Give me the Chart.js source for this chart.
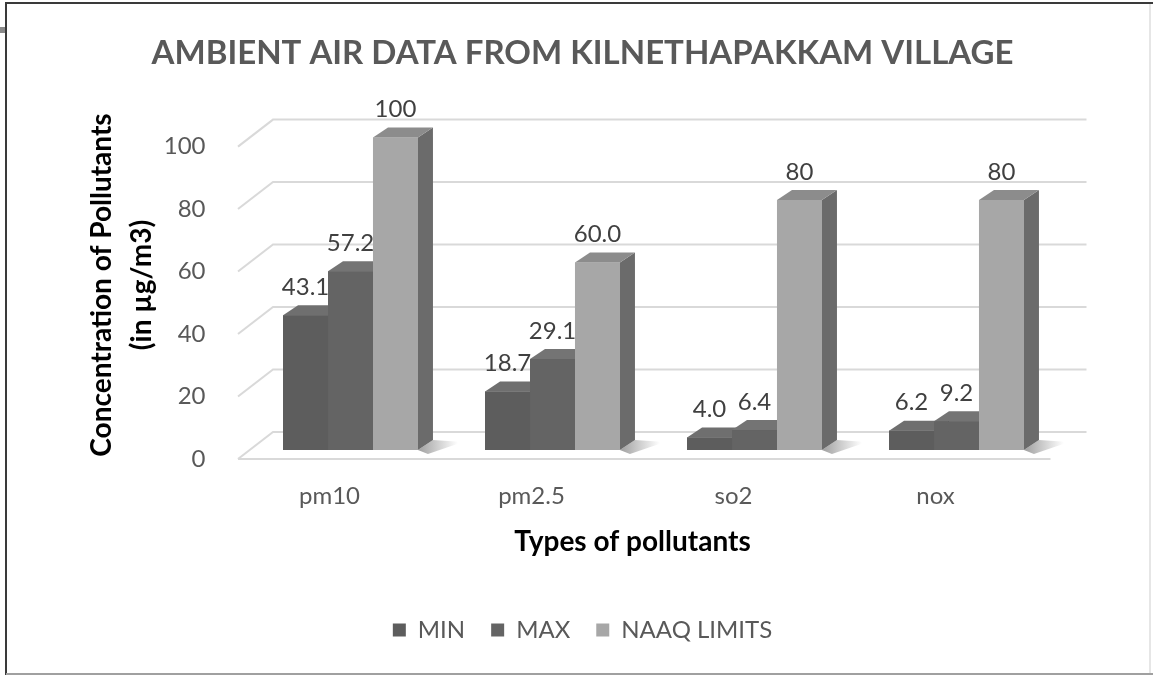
<!DOCTYPE html>
<html>
<head>
<meta charset="utf-8">
<script src="https://cdn.jsdelivr.net/npm/chart.js@4.4.1/dist/chart.umd.min.js"></script>
<style>
  html, body { margin: 0; padding: 0; background: #fff; }
  #wrap { position: relative; width: 1153px; height: 675px; }
</style>
</head>
<body>
<div id="wrap"><canvas id="airChart" width="1153" height="675"></canvas></div>
<script>
const categories = ['pm10', 'pm2.5', 'so2', 'nox'];
const minValues = [43.1, 18.7, 4.0, 6.2];
const maxValues = [57.2, 29.1, 6.4, 9.2];
const naaqValues = [100, 60, 80, 80];
const naaqText = ['100', '60.0', '80', '80'];
const seriesNames = ['MIN', 'MAX', 'NAAQ LIMITS'];
const yTicks = [0, 20, 40, 60, 80, 100];

const chartTitle = 'AMBIENT AIR DATA FROM KILNETHAPAKKAM VILLAGE';
const yTitle = ['Concentration of Pollutants', '(in µg/m3)'];
const xTitle = 'Types of pollutants';

// colours of the three faces of each bar (front, side, top)
const faces = [
  { front: '#5d5d5d', side: '#454545', top: '#6f6f6f' },
  { front: '#646464', side: '#4a4a4a', top: '#747474' },
  { front: '#a7a7a7', side: '#6b6b6b', top: '#8c8c8c' }
];

const FONT = 'Lato';

const fake3d = {
  id: 'fake3d',
  beforeDraw(chart) {
    const ctx = chart.ctx;
    ctx.save();
    ctx.fillStyle = '#fff';
    ctx.fillRect(0, 0, chart.width, chart.height);
    // frame
    ctx.strokeStyle = '#3a3a3a';
    ctx.lineWidth = 2;
    ctx.beginPath();
    ctx.moveTo(6, 675); ctx.lineTo(6, 3); ctx.lineTo(1153, 3);
    ctx.stroke();
    ctx.strokeStyle = '#a0a0a0';
    ctx.beginPath();
    ctx.moveTo(6, 674); ctx.lineTo(1153, 674);
    ctx.stroke();
    ctx.strokeStyle = '#e6e6e6';
    ctx.beginPath();
    ctx.moveTo(1150, 4); ctx.lineTo(1150, 673);
    ctx.stroke();
    ctx.fillStyle = '#8a8a8a';
    ctx.fillRect(0, 27, 5, 6);
    ctx.restore();
  },
  beforeDatasetsDraw(chart) {
    const { ctx, chartArea: a, scales: { y } } = chart;
    const x0 = a.left + 9.5;
    ctx.save();
    ctx.strokeStyle = '#d9d9d9';
    ctx.lineWidth = 2;
    y.ticks.forEach(t => {
      const py = y.getPixelForValue(t.value);
      ctx.beginPath();
      ctx.moveTo(x0, py);
      ctx.lineTo(x0 + 35, py - 27);
      ctx.lineTo(a.right + 50, py - 27);
      ctx.stroke();
    });
    const y0 = y.getPixelForValue(0);
    ctx.beginPath();
    ctx.moveTo(x0, y0);
    ctx.lineTo(a.right + 14, y0);
    ctx.stroke();
    ctx.restore();

    ctx.save();
    ctx.translate(21, -9);
  },
  afterDatasetsDraw(chart) {
    const ctx = chart.ctx;
    const n = chart.data.labels.length;
    const dx = 15, dy = -10;
    const bars = [];
    for (let i = 0; i < n; i++) {
      // soft shadow on the floor to the right of each group
      const last = chart.getDatasetMeta(chart.data.datasets.length - 1).data[i];
      const lp = last.getProps(['x', 'base', 'width'], true);
      const sx = lp.x + lp.width / 2;
      const g = ctx.createLinearGradient(sx, 0, sx + 40, 0);
      g.addColorStop(0, 'rgba(80,80,80,0.55)');
      g.addColorStop(1, 'rgba(80,80,80,0)');
      ctx.fillStyle = g;
      ctx.beginPath();
      ctx.moveTo(sx, lp.base);
      ctx.lineTo(sx + dx, lp.base + dy);
      ctx.lineTo(sx + dx + 30, lp.base + dy + 2);
      ctx.lineTo(sx + 10, lp.base + 4);
      ctx.closePath();
      ctx.fill();

      chart.data.datasets.forEach((ds, d) => {
        const bar = chart.getDatasetMeta(d).data[i];
        const p = bar.getProps(['x', 'y', 'base', 'width'], true);
        const l = p.x - p.width / 2, r = p.x + p.width / 2;
        const f = faces[d];
        ctx.fillStyle = f.side;
        ctx.beginPath();
        ctx.moveTo(r, p.y); ctx.lineTo(r + dx, p.y + dy);
        ctx.lineTo(r + dx, p.base + dy); ctx.lineTo(r, p.base);
        ctx.closePath(); ctx.fill();
        ctx.fillStyle = f.top;
        ctx.beginPath();
        ctx.moveTo(l, p.y); ctx.lineTo(l + dx, p.y + dy);
        ctx.lineTo(r + dx, p.y + dy); ctx.lineTo(r, p.y);
        ctx.closePath(); ctx.fill();
        ctx.fillStyle = f.front;
        ctx.fillRect(l, p.y, p.width, p.base - p.y);
        bars.push({ p, d, i });
      });
    }
    // value labels
    ctx.font = '24px ' + FONT;
    ctx.fillStyle = '#404040';
    ctx.textAlign = 'center';
    ctx.textBaseline = 'middle';
    bars.forEach(({ p, d, i }) => {
      const v = chart.data.datasets[d].data[i];
      const txt = d === 2 ? naaqText[i] : v.toFixed(1);
      ctx.fillText(txt, p.x, p.y - 28);
    });
    ctx.restore();
  },
  afterDraw(chart) {
    const ctx = chart.ctx;
    ctx.save();
    ctx.translate(102, 285);
    ctx.rotate(-Math.PI / 2);
    ctx.font = 'bold 28px ' + FONT;
    ctx.fillStyle = '#000';
    ctx.textAlign = 'center';
    ctx.textBaseline = 'middle';
    ctx.fillText(yTitle[0], 0, 0);
    ctx.fillText(yTitle[1], 0, 40);
    ctx.restore();
  }
};

const ctx = document.getElementById('airChart').getContext('2d');
const airChart = new Chart(ctx, {
  type: 'bar',
  data: {
    labels: categories,
    datasets: [
      { label: seriesNames[0], data: minValues, backgroundColor: faces[0].front },
      { label: seriesNames[1], data: maxValues, backgroundColor: faces[1].front },
      { label: seriesNames[2], data: naaqValues, backgroundColor: faces[2].front }
    ]
  },
  options: {
    responsive: false,
    animation: false,
    clip: false,
    datasets: {
      bar: { categoryPercentage: 0.668, barPercentage: 1.0, clip: false }
    },
    layout: { padding: { left: 12, right: 0, top: 2, bottom: 23 } },
    plugins: {
      tooltip: { enabled: false },
      title: {
        display: true,
        text: chartTitle,
        color: '#595959',
        font: { family: FONT, size: 33, weight: 'bold' },
        padding: { top: 32, bottom: 73 }
      },
      legend: {
        position: 'bottom',
        labels: {
          color: '#595959',
          font: { family: FONT, size: 24 },
          boxWidth: 13,
          boxHeight: 13,
          padding: 26
        }
      }
    },
    scales: {
      x: {
        grid: { display: false },
        border: { display: false },
        ticks: { color: '#595959', font: { family: FONT, size: 24 }, padding: 15 },
        title: {
          display: true,
          text: xTitle,
          color: '#000',
          font: { family: FONT, size: 28, weight: 'bold' },
          padding: { top: 0, bottom: 33 }
        },
        afterFit(scale) { scale.height = 133; }
      },
      y: {
        min: 0,
        max: 100,
        afterBuildTicks(scale) { scale.ticks = yTicks.map(v => ({ value: v })); },
        grid: { display: false },
        border: { display: false },
        ticks: { color: '#595959', font: { family: FONT, size: 24 }, padding: 15 },
        afterFit(scale) { scale.width = 216.5; }
      },
      yRight: {
        position: 'right',
        display: true,
        grid: { display: false },
        border: { display: false },
        ticks: { display: false },
        afterFit(scale) { scale.width = 116.5; }
      }
    }
  },
  plugins: [fake3d]
});
</script>
</body>
</html>
